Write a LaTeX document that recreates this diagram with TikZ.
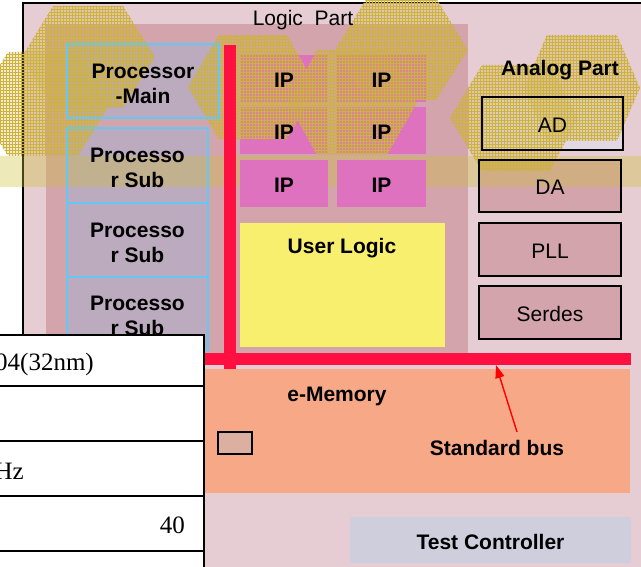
\documentclass[tikz,border=0pt]{standalone}
\usepackage{fontspec}
\setmainfont{Liberation Sans}
\newfontfamily\tablefont{Liberation Serif}
\usetikzlibrary{arrows.meta,patterns}

\definecolor{chipbg}{RGB}{230,205,211}
\definecolor{logicbg}{RGB}{211,164,171}
\definecolor{procfill}{RGB}{188,170,190}
\definecolor{procline}{RGB}{100,200,245}
\definecolor{ipfill}{RGB}{222,114,190}
\definecolor{userfill}{RGB}{248,239,110}
\definecolor{anafill}{RGB}{212,164,172}
\definecolor{adfill}{RGB}{226,216,228}
\definecolor{memfill}{RGB}{247,168,134}
\definecolor{cellfill}{RGB}{219,176,160}
\definecolor{testfill}{RGB}{206,206,220}
\definecolor{busred}{RGB}{255,16,64}
\definecolor{hexgold}{RGB}{205,178,62}
\definecolor{bandtan}{RGB}{205,192,55}

\newcommand{\blk}[6]{%
  \pgfmathsetmacro\bw{#4-#2}\pgfmathsetmacro\bh{#5-#3}%
  \node[#6, inner sep=0pt, outer sep=0pt, anchor=north west,
        minimum width=\bw pt, minimum height=\bh pt] (#1) at (#2,#3) {};}

\begin{document}
\begin{tikzpicture}[x=1pt,y=-1pt,
  txt/.style={font=\fontsize{21}{25}\selectfont, align=center, inner sep=0pt, yshift=-1.5pt},
  btxt/.style={txt, font=\fontsize{21}{25}\selectfont\bfseries},
  cellline/.style={draw=black, line width=1.8pt},
  tabtxt/.style={font=\tablefont\fontsize{25}{28}\selectfont, inner sep=0pt, anchor=east},
  hexfill/.style={fill=hexgold, fill opacity=0.25},
  hexgrid/.style={pattern=grid, pattern color=hexgold, fill opacity=0.38},
  busline/.style={draw=busred, line width=12pt},
  busarrow/.style={draw=red, line width=1.4pt, -{Triangle[length=13pt,width=9pt]}}]

\useasboundingbox (0,0) rectangle (641,567);
\clip (0,0) rectangle (641,567);
\fill[white] (0,0) rectangle (641,567);

% chip outline and logic area
\blk{chip}{23}{3}{680}{600}{fill=chipbg, draw=black, line width=1.6pt}
\blk{logic}{46}{24}{468}{353}{fill=logicbg}

% processor blocks (fills)
\blk{pmain}{67}{44}{219}{118}{fill=procfill}
\blk{psubA}{67}{128}{208}{203}{fill=procfill}
\blk{psubB}{67}{203}{208}{277}{fill=procfill}
\blk{psubC}{67}{277}{208}{350}{fill=procfill}

% analog blocks (fills)
\blk{ad}{482}{97}{623}{150}{fill=adfill}
\blk{da}{479}{160}{621}{212}{fill=anafill}
\blk{pll}{479}{223}{621}{276}{fill=anafill}
\blk{serdes}{479}{286}{621}{339}{fill=anafill}

% horizontal translucent strip
\fill[bandtan, fill opacity=0.35] (-5,156) rectangle (646,187);

% IP blocks
\blk{ipAa}{240}{55}{328}{102}{fill=ipfill}
\blk{ipAb}{337}{55}{426}{102}{fill=ipfill}
\blk{ipBa}{240}{107}{328}{154}{fill=ipfill}
\blk{ipBb}{337}{107}{426}{154}{fill=ipfill}
\blk{ipCa}{240}{160}{328}{207}{fill=ipfill}
\blk{ipCb}{337}{160}{426}{207}{fill=ipfill}

% user logic
\blk{ulogic}{240}{223}{445}{347}{fill=userfill}

% hexagonal textured decoration
\foreach \h in {
  {(53,6)--(123,6)--(155,57)--(123,108)--(53,108)--(22,57)--cycle},
  {(8,52)--(78,52)--(110,104)--(78,156)--(8,156)--(-24,104)--cycle},
  {(219,35)--(287,35)--(317,87)--(287,139)--(219,139)--(188,87)--cycle},
  {(317,50)--(387,50)--(417,103)--(387,155)--(317,155)--(288,103)--cycle},
  {(367,-2)--(436,-2)--(468,50)--(436,100)--(367,100)--(335,50)--cycle},
  {(547,35)--(617,35)--(640,88)--(617,141)--(547,141)--(524,88)--cycle},
  {(482,65)--(550,65)--(578,118)--(550,171)--(482,171)--(450,118)--cycle}}
{
  \fill[hexfill] \h;
  \fill[hexgrid] \h;
}

% outlines of blocks
\foreach \b in {pmain,psubA,psubB,psubC}
  \draw[procline, line width=1.5pt] (\b.north west) rectangle (\b.south east);
\foreach \b in {ad,da,pll,serdes}
  \draw[black, line width=1.8pt] (\b.north west) rectangle (\b.south east);

% buses
\coordinate (vtop) at (230,45);
\coordinate (vbot) at (230,369);
\coordinate (hleft) at (190,359);
\coordinate (hright) at (631,359);
\draw[busline] (vtop) -- (vbot);
\draw[busline] (hleft) -- (hright);

% memory and test blocks
\blk{emem}{190}{369}{630}{493}{fill=memfill}
\blk{cell}{218}{432}{252}{454}{fill=cellfill, draw=black, line width=1.5pt}
\blk{testctl}{350}{517}{631}{563}{fill=testfill}

% labels
\node[txt] (logiclbl) at (303,19) {Logic~~Part};
\node[btxt] (pmainlbl) at ([yshift=-1pt]pmain.center) {Processor\\-Main};
\node[btxt] (psubAlbl) at ([yshift=-1pt]psubA.center) {Processo\\r Sub};
\node[btxt] (psubBlbl) at ([yshift=-1pt]psubB.center) {Processo\\r Sub};
\node[btxt] (psubClbl) at ([yshift=-1pt]psubC.center) {Processo\\r Sub};
\foreach \b in {ipAa,ipAb,ipBa,ipBb,ipCa,ipCb}
  \node[btxt] (\b lbl) at (\b.center) {IP};
\node[btxt] (ulogiclbl) at (342,247) {User Logic};
\node[btxt] (analbl) at (560,69) {Analog Part};
\node[txt] (adlbl) at (ad.center) {AD};
\node[txt] (dalbl) at (da.center) {DA};
\node[txt] (plllbl) at (pll.center) {PLL};
\node[txt] (serdeslbl) at (serdes.center) {Serdes};
\node[btxt] (ememlbl) at (337,395) {e-Memory};
\node[btxt] (buslbl) at (497,446) {Standard bus};
\node[btxt] (testlbl) at (testctl.center) {Test Controller};

% arrow to the standard bus
\coordinate (arrtail) at (517,432);
\coordinate (arrtip) at (496,365);
\draw[busarrow] (arrtail) -- (arrtip);

% specification table
\blk{rowA}{-10}{335}{204}{386}{fill=white, cellline}
\blk{rowB}{-10}{386}{204}{441}{fill=white, cellline}
\blk{rowC}{-10}{441}{204}{496}{fill=white, cellline}
\blk{rowD}{-10}{496}{204}{551}{fill=white, cellline}
\blk{rowE}{-10}{551}{204}{606}{fill=white, cellline}
\node[tabtxt] (rowAtxt) at (94,364) {04(32nm)};
\node[tabtxt] (rowCtxt) at (24,471) {Hz};
\node[tabtxt] (rowDtxt) at (185,525) {40};
\end{tikzpicture}
\end{document}
